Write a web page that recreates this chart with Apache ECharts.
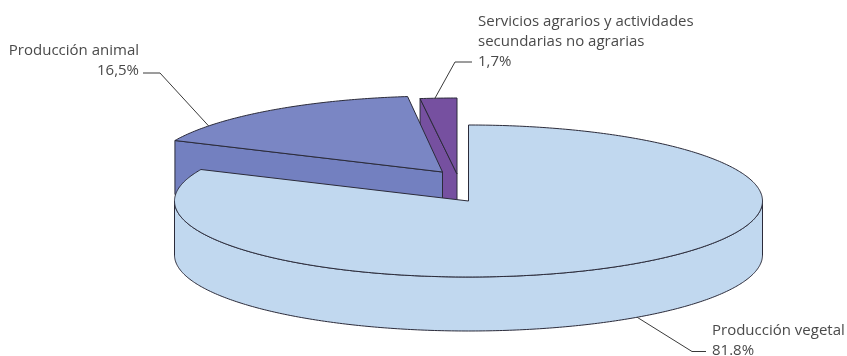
<!DOCTYPE html>
<html>
<head>
<meta charset="utf-8">
<style>html,body{margin:0;padding:0;background:#fff}#c{width:847px;height:356px}</style>
<script src="https://cdn.jsdelivr.net/npm/echarts@6/dist/echarts.min.js"></script>
</head>
<body>
<div id="c"></div>
<script>
var categories = ['Producción vegetal', 'Producción animal', 'Servicios agrarios y actividades\nsecundarias no agrarias'];
var shares = [81.8, 16.5, 1.7];
var shareLabels = ['81.8%', '16,5%', '1,7%'];
var colors = ['#c1d8ef', '#7a86c4', '#7650a0'];
var sideColors = ['#c1d8ef', '#7380c0', '#7650a0'];

var RX = 294, RY = 76, DEPTH = 54, CX = 468.5, CY = 201;
var explode = [[0, 0], [-26, -29], [-11.5, -27]];       // slice offsets
var angleTweak = [[0, 0], [0, -0.7], [-1.1, 0]];        // small drawn-angle adjustments
var drawOrder = [2, 1, 0];
var leaders = [
  { angle: 145, onBase: true, pts: [[692, 351.5], [706, 351.5]], x: 712, y: 340.5, align: 'left' },
  { angle: 307.3, onBase: false, pts: [[160, 73], [143, 73]], x: 139, y: 61, align: 'right' },
  { angle: 355.7, onBase: false, pts: [[455, 62], [472, 62]], x: 478, y: 41.5, align: 'left' }
];

function ranges() {
  var a = 0, out = [];
  for (var i = 0; i < shares.length; i++) {
    var sweep = shares[i] / 100 * 360;
    out.push([a + angleTweak[i][0], a + sweep + angleTweak[i][1]]);
    a += sweep;
  }
  return out;
}
function pt(i, deg, dy) {
  var t = deg * Math.PI / 180;
  return [CX + explode[i][0] + RX * Math.sin(t), CY + explode[i][1] - RY * Math.cos(t) + (dy || 0)];
}
function arc(i, a, b, dy) {
  var p = [], n = Math.max(2, Math.ceil(Math.abs(b - a) * 1.5));
  for (var k = 0; k <= n; k++) p.push(pt(i, a + (b - a) * k / n, dy));
  return p;
}
function poly(points, fill) {
  return {
    type: 'polygon',
    shape: { points: points },
    style: { fill: fill, stroke: '#2b2b3a', lineWidth: 1, lineJoin: 'round' }
  };
}
function renderSlice(params) {
  var i = drawOrder[params.dataIndex], r = ranges()[i];
  var apex = [CX + explode[i][0], CY + explode[i][1]];
  var kids = [];
  // cut face at the start of the slice
  var s0 = pt(i, r[0]), s1 = pt(i, r[0], DEPTH);
  if (i > 0) kids.push(poly([s0, apex, [apex[0], apex[1] + DEPTH], s1], sideColors[i]));
  // outer wall on the front half
  var a = Math.max(r[0], 90), b = Math.min(r[1], 270);
  if (b > a) kids.push(poly(arc(i, a, b, 0).concat(arc(i, b, a, DEPTH)), sideColors[i]));
  // top face
  kids.push(poly([apex].concat(arc(i, r[0], r[1], 0)), colors[i]));
  return { type: 'group', children: kids };
}
function renderLabel(params) {
  var i = params.dataIndex, L = leaders[i];
  var start = pt(i, L.angle, L.onBase ? DEPTH : 0);
  return {
    type: 'group',
    children: [
      {
        type: 'polyline',
        shape: { points: [start].concat(L.pts) },
        style: { fill: null, stroke: '#3a3a3a', lineWidth: 1 }
      },
      {
        type: 'text',
        x: L.x, y: L.y,
        style: {
          text: categories[i] + '\n' + shareLabels[i],
          fill: '#4a4a4a',
          font: '15px "Open Sans"',
          lineHeight: 20,
          align: L.align,
          verticalAlign: 'middle'
        }
      }
    ]
  };
}
var chart = echarts.init(document.getElementById('c'), null, { renderer: 'canvas' });
chart.setOption({
  animation: false,
  backgroundColor: '#ffffff',
  series: [
    {
      type: 'custom', coordinateSystem: 'none', silent: true, z: 2,
      data: drawOrder.map(function (i) { return shares[i]; }),
      renderItem: renderSlice
    },
    {
      type: 'custom', coordinateSystem: 'none', silent: true, z: 3,
      data: shares,
      renderItem: renderLabel
    }
  ]
});
</script>
</body>
</html>
